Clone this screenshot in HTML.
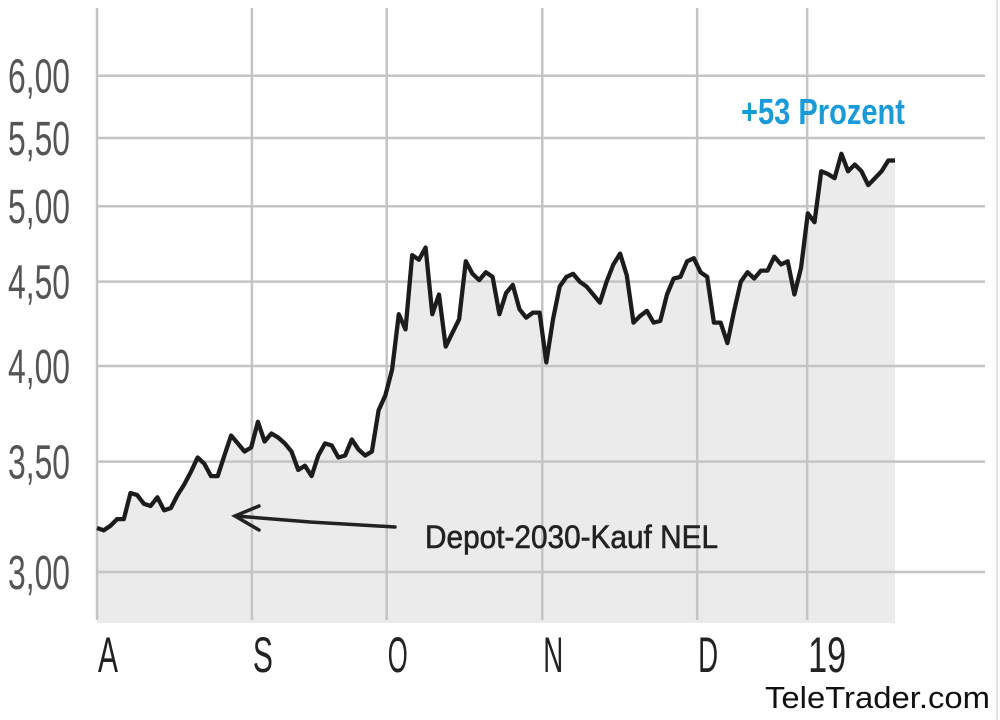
<!DOCTYPE html>
<html><head><meta charset="utf-8"><style>
html,body{margin:0;padding:0;background:#fff;width:1000px;height:720px;overflow:hidden}
svg{display:block}
text{font-family:"Liberation Sans Narrow","Liberation Sans",sans-serif}
</style></head><body>
<svg id="chart" width="1000" height="720">
<g id="areag"></g>
<g id="grid"></g>
<g id="series"></g>
<g id="labels"></g>
<line x1="997" y1="0" x2="997" y2="720" stroke="#e4e4e4" stroke-width="2"/>
<g fill="none" stroke="#222" stroke-width="3.5" stroke-linecap="round">
<path d="M395,527 L310,522 L236,516"/>
<path d="M259,506 L235,516 L259,530"/>
</g>
<text x="425" y="548" font-size="32" fill="#222" stroke="#222" stroke-width="0.6" textLength="293" lengthAdjust="spacingAndGlyphs">Depot-2030-Kauf NEL</text>
<text x="741" y="124" font-size="36" fill="#1a9ad6" font-weight="bold" textLength="164" lengthAdjust="spacingAndGlyphs">+53 Prozent</text>
<text x="765" y="708" font-size="31" fill="#111" textLength="225" lengthAdjust="spacingAndGlyphs" style="font-family:'Liberation Sans',sans-serif">TeleTrader.com</text>
</svg>
<script>
const values=[3.19,3.18,3.20,3.23,3.23,3.35,3.34,3.30,3.29,3.33,3.27,3.28,3.34,3.39,3.45,3.52,3.49,3.43,3.43,3.53,3.63,3.59,3.55,3.57,3.70,3.60,3.64,3.62,3.59,3.55,3.46,3.48,3.43,3.53,3.59,3.58,3.52,3.53,3.61,3.56,3.53,3.55,3.76,3.84,3.98,4.30,4.21,4.67,4.64,4.72,4.30,4.42,4.11,4.19,4.27,4.63,4.55,4.51,4.56,4.53,4.30,4.43,4.48,4.33,4.28,4.31,4.31,4.02,4.27,4.47,4.53,4.55,4.50,4.47,4.42,4.37,4.50,4.61,4.68,4.54,4.25,4.29,4.32,4.25,4.26,4.42,4.52,4.53,4.63,4.65,4.56,4.53,4.25,4.25,4.13,4.32,4.50,4.56,4.52,4.57,4.57,4.66,4.61,4.63,4.42,4.59,4.95,4.89,5.25,5.23,5.20,5.38,5.25,5.30,5.25,5.15,5.20,5.25,5.33,5.33];
const yTicks=[3.00,3.50,4.00,4.50,5.00,5.50,6.00];
const yTickLabels=["3,00","3,50","4,00","4,50","5,00","5,50","6,00"];
const xTickLabels=["A","S","O","N","D","19"];
const xTickIdx=[0,23.1,43.2,66.4,89.5,105.9];
const NS="http://www.w3.org/2000/svg";
const X0=97,X1=895,YB=620;
function xs(i){return X0+(X1-X0)*i/(values.length-1);}
function ys(v){return 572-716*Math.log(v/3);}
function mk(tag,attrs,parent){const e=document.createElementNS(NS,tag);for(const k in attrs)e.setAttribute(k,attrs[k]);parent.appendChild(e);return e;}
const areag=document.getElementById('areag'),grid=document.getElementById('grid'),series=document.getElementById('series'),labels=document.getElementById('labels');
let d='M'+X0+','+(YB+3);
values.forEach((v,i)=>{d+=' L'+xs(i).toFixed(1)+','+ys(v).toFixed(1);});
d+=' L'+X1+','+(YB+3)+' Z';
const area=mk('path',{d:d,fill:'#ebebeb'},areag);


yTicks.forEach((t,i)=>{
 const y=ys(t);
 const l=mk('line',{x1:X0,x2:985,y1:y,y2:y,stroke:'#c4c4c4','stroke-width':2.5},grid);
 
 
 const tx=mk('text',{x:70,y:y+17,'font-size':48,fill:'#555','text-anchor':'end',textLength:62,lengthAdjust:'spacingAndGlyphs'},labels);
 tx.textContent=yTickLabels[i];
 
 
});
xTickIdx.forEach((ix,i)=>{
 const x=xs(ix);
 const l=mk('line',{x1:x,x2:x,y1:8,y2:YB,stroke:'#c4c4c4','stroke-width':2.5},grid);
 
 
 const lab=xTickLabels[i];
 const tx=mk('text',{x:x+1,y:672,'font-size':50,fill:'#222',textLength:(lab==='19'?38:20),lengthAdjust:'spacingAndGlyphs'},labels);
 tx.textContent=lab;
 
 
});
let pd='';
values.forEach((v,i)=>{pd+=(i?' L':'M')+xs(i).toFixed(1)+','+ys(v).toFixed(1);});
const line=mk('path',{d:pd,fill:'none',stroke:'#1c1c1c','stroke-width':4.3,'stroke-linejoin':'round'},series);


</script>
</body></html>
